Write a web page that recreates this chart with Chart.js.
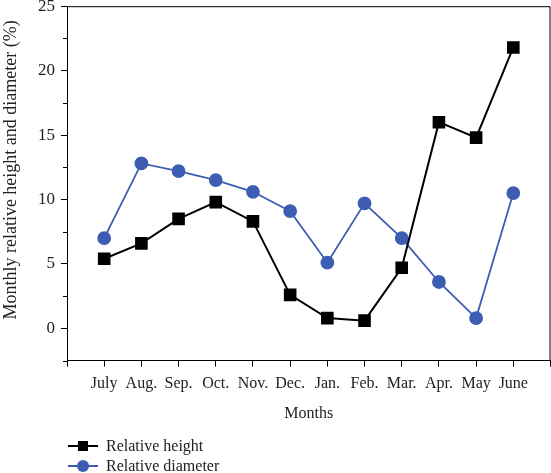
<!DOCTYPE html>
<html>
<head>
<meta charset="utf-8">
<script src="https://cdn.jsdelivr.net/npm/chart.js@4/dist/chart.umd.min.js"></script>
<style>
  html, body { margin: 0; padding: 0; background: #fff; }
  #wrap { position: relative; width: 551px; height: 473px; overflow: hidden; }
  #chart { position: absolute; left: 0; top: -10px; }
  #legend { position: absolute; left: 68px; top: 436px; font-family: 'Liberation Serif', serif; font-size: 16px; color: #222; }
  .leg-row { display: flex; align-items: center; height: 20px; }
  .leg-mark { position: relative; width: 30px; height: 14px; margin-right: 8px; }
  .leg-mark .ln { position: absolute; left: 0; right: 0; top: 6px; height: 2px; }
  .leg-mark .sym { position: absolute; left: 10px; top: 2px; width: 10px; height: 10px; }
</style>
</head>
<body>
<div id="wrap">
  <canvas id="chart" width="560" height="483"></canvas>
  <div id="legend">
    <div class="leg-row"><span class="leg-mark"><span class="ln" style="background:#000"></span><span class="sym" style="background:#000"></span></span>Relative height</div>
    <div class="leg-row"><span class="leg-mark"><span class="ln" style="background:#3d5db3"></span><span class="sym" style="background:#3d5db3;border-radius:50%;width:12px;height:12px;left:9px;top:1px"></span></span>Relative diameter</div>
  </div>
</div>
<script>
const MONTHS = ['July', 'Aug.', 'Sep.', 'Oct.', 'Nov.', 'Dec.', 'Jan.', 'Feb.', 'Mar.', 'Apr.', 'May', 'June'];
const RELATIVE_HEIGHT = [5.4, 6.6, 8.5, 9.8, 8.3, 2.6, 0.8, 0.6, 4.7, 16.0, 14.8, 21.8];
const RELATIVE_DIAMETER = [7.0, 12.8, 12.2, 11.5, 10.6, 9.1, 5.1, 9.7, 7.0, 3.6, 0.8, 10.5];
const Y_MIN = -2.5, Y_MAX = 25, Y_STEP = 2.5;

const FONT = 'Liberation Serif';
const BLUE = '#3d5db3';

// top/right frame and the short minor ticks on the y axis
const framePlugin = {
  id: 'frame',
  afterDraw(chart) {
    const { ctx, chartArea: a, scales } = chart;
    ctx.save();
    ctx.strokeStyle = '#000';
    ctx.lineWidth = 1;
    ctx.beginPath();
    ctx.moveTo(a.left, a.top + 0.5);
    ctx.lineTo(a.right - 0.5, a.top + 0.5);
    ctx.lineTo(a.right - 0.5, a.bottom);
    for (let v = Y_MIN; v <= Y_MAX; v += Y_STEP) {
      if (v % 5 === 0) continue;
      const y = Math.round(scales.y.getPixelForValue(v)) + 0.5;
      ctx.moveTo(a.left - 4, y);
      ctx.lineTo(a.left, y);
    }
    ctx.stroke();
    ctx.restore();
  }
};

const toPoints = arr => arr.map((v, i) => ({ x: i, y: v }));

new Chart(document.getElementById('chart'), {
  type: 'line',
  data: {
    datasets: [
      {
        label: 'Relative height',
        data: toPoints(RELATIVE_HEIGHT),
        borderColor: '#000',
        backgroundColor: '#000',
        borderWidth: 2,
        pointStyle: 'rect',
        pointRadius: 7.5,
        pointHoverRadius: 7.5,
        tension: 0,
      },
      {
        label: 'Relative diameter',
        data: toPoints(RELATIVE_DIAMETER),
        borderColor: BLUE,
        backgroundColor: BLUE,
        borderWidth: 1.8,
        pointStyle: 'circle',
        pointRadius: 6,
        pointHoverRadius: 6,
        tension: 0,
      },
    ],
  },
  options: {
    responsive: false,
    animation: false,
    layout: { padding: { top: 0, right: 0, bottom: 46, left: 0 } },
    plugins: {
      legend: { display: false },
      tooltip: { enabled: false },
    },
    scales: {
      x: {
        type: 'linear',
        min: -1,
        max: 12,
        border: { color: '#000', width: 1 },
        grid: { drawOnChartArea: false, color: '#000', tickLength: 6 },
        ticks: {
          stepSize: 1,
          maxTicksLimit: 20,
          autoSkip: false,
          maxRotation: 0,
          color: '#222',
          padding: 8,
          font: { family: FONT, size: 16 },
          callback: v => MONTHS[v] ?? '',
        },
        title: { display: true, text: 'Months', color: '#222', font: { family: FONT, size: 16 }, padding: { top: 2 } },
      },
      y: {
        min: Y_MIN,
        max: Y_MAX,
        afterFit: s => { s.width = 67; },
        border: { color: '#000', width: 1 },
        grid: {
          drawOnChartArea: false,
          tickLength: 6,
          color: '#000',
          tickColor: c => (c.tick && c.tick.value % 5 === 0 ? '#000' : 'rgba(0,0,0,0)'),
        },
        ticks: {
          stepSize: Y_STEP,
          maxTicksLimit: 20,
          color: '#222',
          padding: 6,
          font: { family: FONT, size: 17 },
          callback: v => (v % 5 === 0 ? v : ''),
        },
        title: { display: true, text: '      Monthly relative height and diameter (%)', color: '#222', font: { family: FONT, size: 18 }, padding: { top: 0, bottom: 4 } },
      },
    },
  },
  plugins: [framePlugin],
});
</script>
</body>
</html>
